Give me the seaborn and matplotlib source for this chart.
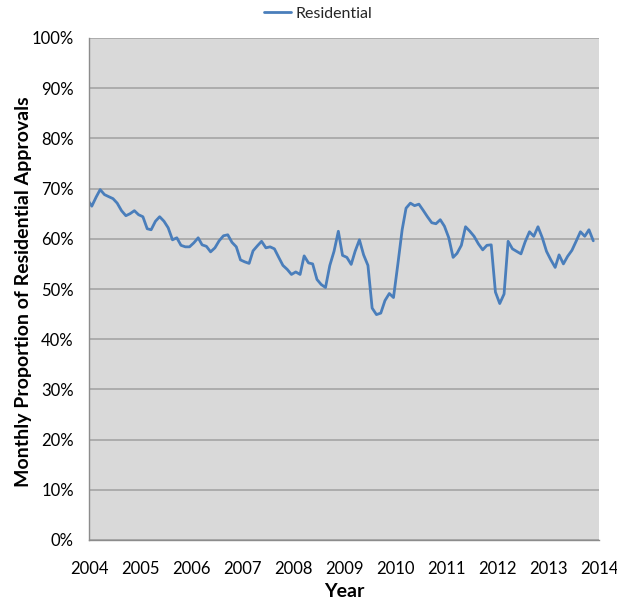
import matplotlib
matplotlib.use("Agg")
import matplotlib.pyplot as plt
from matplotlib.ticker import PercentFormatter, MultipleLocator
import pandas as pd
import seaborn as sns

# Monthly share of residential approvals (%), Dec 2003 .. Nov 2013
months = pd.date_range("2003-12-01", periods=120, freq="MS").strftime("%Y-%m").tolist()
residential = [
    67.8,
    66.5, 68.3, 69.8, 68.8, 68.4, 68.0, 67.1, 65.6, 64.6, 65.0, 65.6, 64.8,  # 2004
    64.4, 62.0, 61.8, 63.5, 64.4, 63.5, 62.2, 59.8, 60.2, 58.7, 58.4, 58.4,  # 2005
    59.2, 60.2, 58.8, 58.5, 57.4, 58.2, 59.6, 60.6, 60.8, 59.3, 58.4, 55.8,  # 2006
    55.4, 55.1, 57.6, 58.6, 59.5, 58.2, 58.4, 58.0, 56.3, 54.7, 53.9, 52.9,  # 2007
    53.4, 52.9, 56.6, 55.2, 55.0, 51.9, 50.9, 50.3, 54.7, 57.5, 61.5, 56.7,  # 2008
    56.3, 54.9, 57.5, 59.8, 56.8, 54.7, 46.2, 44.9, 45.2, 47.7, 49.1, 48.3,  # 2009
    54.9, 61.8, 66.1, 67.1, 66.6, 66.9, 65.7, 64.4, 63.2, 63.0, 63.8, 62.5,  # 2010
    60.2, 56.3, 57.1, 58.7, 62.4, 61.5, 60.5, 59.0, 57.8, 58.7, 58.8, 49.4,  # 2011
    47.1, 49.0, 59.5, 58.0, 57.5, 57.0, 59.4, 61.4, 60.5, 62.4, 60.2, 57.5,  # 2012
    55.8, 54.3, 56.8, 55.0, 56.5, 57.7, 59.5, 61.4, 60.5, 61.8, 59.6,        # 2013
]
year_ticks = [str(y) for y in range(2004, 2015)]

df = pd.DataFrame({
    "date": pd.to_datetime(months) + pd.Timedelta(days=20),
    "share": residential,
    "series": "Residential",
})

sns.set_theme(style="white")
plt.rcParams["font.family"] = ["Lato", "DejaVu Sans"]

fig = plt.figure(figsize=(6.17, 6.03), dpi=100)
ax = fig.add_axes([89 / 617, 1 - 540 / 603, 510 / 617, 502 / 603])

sns.lineplot(data=df, x="date", y="share", hue="series",
             palette=["#4A7EBB"], linewidth=2.0, ax=ax, legend=False)

ax.set_facecolor("#D9D9D9")
ax.set_xlim(pd.Timestamp("2004-01-01"), pd.Timestamp("2014-01-01"))
ax.set_ylim(0, 100)
ax.yaxis.set_major_locator(MultipleLocator(10))
ax.yaxis.set_major_formatter(PercentFormatter(100, decimals=0))
ax.set_xticks([pd.Timestamp(f"{y}-01-01") for y in year_ticks])
ax.set_xticklabels(year_ticks)

ax.grid(axis="y", color="#A0A0A0", linewidth=1.1)
ax.grid(axis="x", visible=False)
ax.set_axisbelow(True)
for side in ("top", "right"):
    ax.spines[side].set_visible(False)
for side in ("left", "bottom"):
    ax.spines[side].set_color("#8C8C8C")
    ax.spines[side].set_linewidth(1.0)

ax.tick_params(axis="both", direction="out", length=5, width=1.0,
               color="#8C8C8C", labelsize=12, labelcolor="#000000")
ax.tick_params(axis="y", pad=6)
ax.tick_params(axis="x", pad=10)

ax.set_xlabel("Year", fontsize=14, fontweight="bold", color="#000000")
ax.set_ylabel("Monthly Proportion of Residential Approvals",
              fontsize=14, fontweight="bold", color="#000000")
ax.xaxis.set_label_coords(0.5, -0.085)
ax.yaxis.set_label_coords(-0.112, 0.495)

line = ax.get_lines()[0]
fig.legend([line], ["Residential"], loc="center",
           bbox_to_anchor=(318 / 617, 1 - 14 / 603), frameon=False,
           fontsize=11.5, handlelength=1.7, handletextpad=0.3)

fig.savefig("out.png", dpi=100, facecolor="white")
